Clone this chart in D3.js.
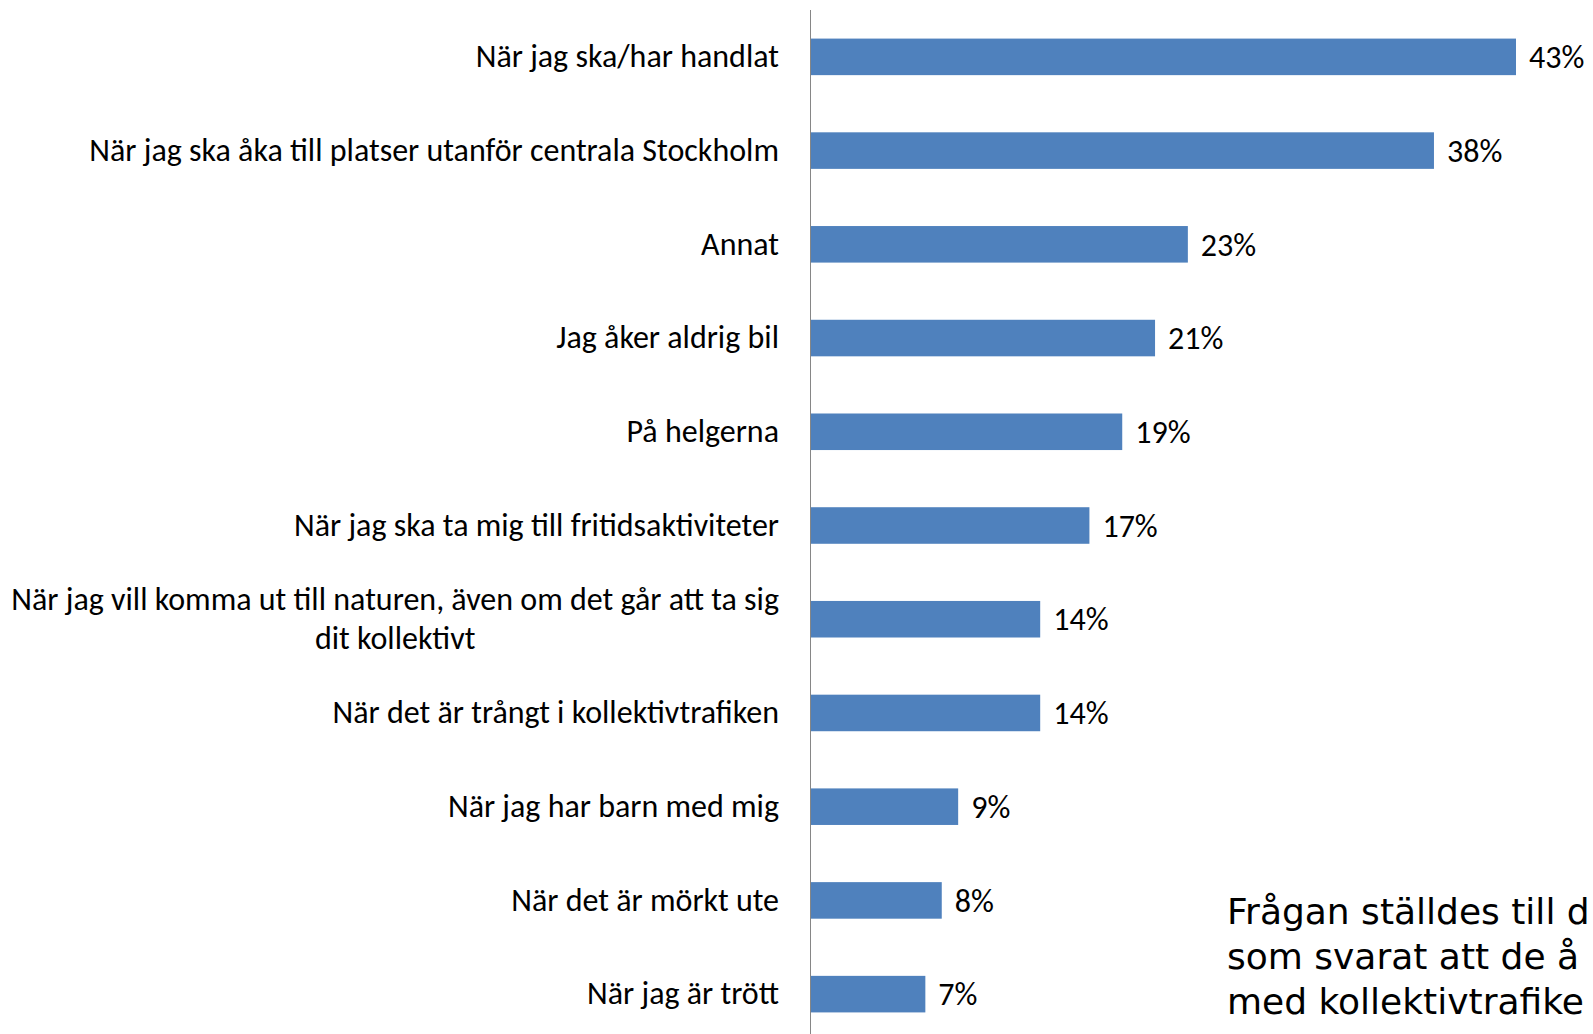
<!DOCTYPE html>
<html><head><meta charset="utf-8">
<script src="https://cdn.jsdelivr.net/npm/d3@7"></script>
<style>
html,body{margin:0;padding:0;background:#fff;overflow:hidden;}
svg{display:block;}
</style></head>
<body>
<svg id="chart" width="1593" height="1034"></svg>
<script>
const categories = [
  "När jag ska/har handlat",
  "När jag ska åka till platser utanför centrala Stockholm",
  "Annat",
  "Jag åker aldrig bil",
  "På helgerna",
  "När jag ska ta mig till fritidsaktiviteter",
  "När jag vill komma ut till naturen, även om det går att ta sig dit kollektivt",
  "När det är trångt i kollektivtrafiken",
  "När jag har barn med mig",
  "När det är mörkt ute",
  "När jag är trött"
];
const labelLines = [
  ["När jag ska/har handlat"],
  ["När jag ska åka till platser utanför centrala Stockholm"],
  ["Annat"],
  ["Jag åker aldrig bil"],
  ["På helgerna"],
  ["När jag ska ta mig till fritidsaktiviteter"],
  ["När jag vill komma ut till naturen, även om det går att ta sig", "dit kollektivt"],
  ["När det är trångt i kollektivtrafiken"],
  ["När jag har barn med mig"],
  ["När det är mörkt ute"],
  ["När jag är trött"]
];
const values = [43, 38, 23, 21, 19, 17, 14, 14, 9, 8, 7];
const noteLines = ["Frågan ställdes till d", "som svarat att de å", "med kollektivtrafike"];

const svg = d3.select("#chart");
const axisX = 810.5;
const x = d3.scaleLinear().domain([0, 43]).range([axisX, 1516]);
const y = d3.scaleBand().domain(categories).range([10, 1041]).paddingInner(0.61).paddingOuter(0.305);

const labelFont = "Carlito, Calibri, Lato, sans-serif";
const fs = 32;

svg.selectAll("rect.bar").data(values).join("rect")
  .attr("class", "bar")
  .attr("x", axisX)
  .attr("y", (d, i) => y(categories[i]))
  .attr("width", d => x(d) - axisX)
  .attr("height", y.bandwidth())
  .attr("fill", "#4F81BD");

// axis line
svg.append("line").attr("x1", axisX).attr("x2", axisX).attr("y1", 10).attr("y2", 1034)
  .attr("stroke", "#868686").attr("stroke-width", 1);

// value labels
svg.selectAll("text.val").data(values).join("text")
  .attr("class", "val")
  .attr("x", d => x(d) + 13)
  .attr("y", (d, i) => y(categories[i]) + y.bandwidth() / 2)
  .attr("dy", "0.35em")
  .attr("font-family", labelFont).attr("font-size", fs).attr("fill", "#000")
  .text(d => d + "%");

// category labels
const lg = svg.selectAll("g.lab").data(labelLines).join("g").attr("class", "lab");
lg.each(function(lines, i) {
  const g = d3.select(this);
  const cy = y(categories[i]) + y.bandwidth() / 2;
  const lh = 38.6;
  const t = g.append("text")
    .attr("font-family", labelFont).attr("font-size", fs).attr("fill", "#000");
  lines.forEach((ln, k) => {
    t.append("tspan").attr("y", cy - 1 + (k - (lines.length - 1) / 2) * lh).attr("dy", "0.35em").text(ln);
  });
  const tsp = t.selectAll("tspan").nodes();
  const widths = tsp.map(n => n.getComputedTextLength());
  const maxW = d3.max(widths);
  const right = 779;
  const center = right - maxW / 2;
  t.selectAll("tspan").attr("x", center).attr("text-anchor", "middle");
});

// note (cut at the right edge, as in the reference)
svg.append("text")
  .attr("font-family", "DejaVu Sans, Verdana, sans-serif").attr("font-size", 36).attr("fill", "#000")
  .selectAll("tspan").data(noteLines).join("tspan")
  .attr("x", 1227).attr("y", (d, i) => 924 + i * 45).text(d => d);
</script>
</body></html>
